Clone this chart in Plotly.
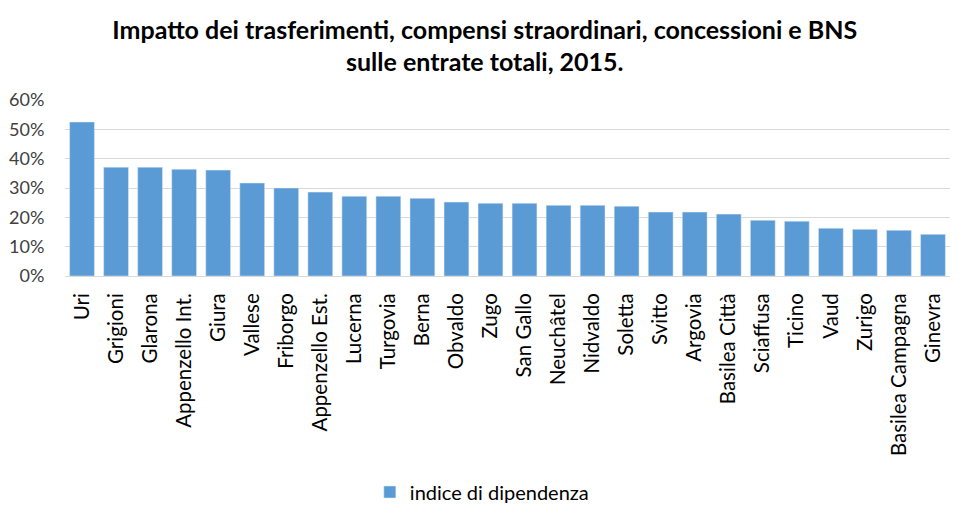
import plotly.graph_objects as go

cantoni = ["Uri", "Grigioni", "Glarona", "Appenzello Int.", "Giura", "Vallese", "Friborgo",
           "Appenzello Est.", "Lucerna", "Turgovia", "Berna", "Obvaldo", "Zugo", "San Gallo",
           "Neuchâtel", "Nidvaldo", "Soletta", "Svitto", "Argovia", "Basilea Città", "Sciaffusa",
           "Ticino", "Vaud", "Zurigo", "Basilea Campagna", "Ginevra"]
indice = [0.525, 0.371, 0.371, 0.364, 0.361, 0.317, 0.300, 0.286, 0.272, 0.272, 0.265,
          0.252, 0.248, 0.248, 0.241, 0.241, 0.238, 0.218, 0.218, 0.211, 0.190, 0.187,
          0.163, 0.159, 0.156, 0.142]
serie = "indice di dipendenza"
titolo = "Impatto dei trasferimenti, compensi straordinari, concessioni e BNS<br>sulle entrate totali, 2015."

fig = go.Figure(go.Bar(x=cantoni, y=indice, name=serie, marker_color="#5b9bd5",
                       showlegend=True))
fig.update_layout(
    width=967, height=521,
    paper_bgcolor="white", plot_bgcolor="white",
    font=dict(family="Lato, Open Sans, sans-serif", color="#404040"),
    title=dict(text="<b>" + titolo + "</b>", x=0.493, xanchor="center",
               y=0.9405, yanchor="top",
               font=dict(size=25, color="#000000")),
    margin=dict(l=57, r=25, t=92, b=253, autoexpand=False),
    bargap=0.27,
    legend=dict(orientation="h", x=0.471, xanchor="center", yref="container",
                y=0.071, yanchor="middle",
                font=dict(size=20, color="#000000")),
    xaxis=dict(tickangle=-90, tickfont=dict(size=20.5, color="#000000"), showline=True,
               linecolor="#d9d9d9", ticks="outside", ticklen=8, tickcolor="white",
               showgrid=False, automargin=False),
    yaxis=dict(range=[0, 0.6], dtick=0.1, tickformat=".0%", gridcolor="#d9d9d9",
               tickfont=dict(size=18, color="#404040"), zeroline=False,
               ticks="outside", ticklen=16, tickcolor="white", automargin=False),
)
fig.write_html("out.html")
